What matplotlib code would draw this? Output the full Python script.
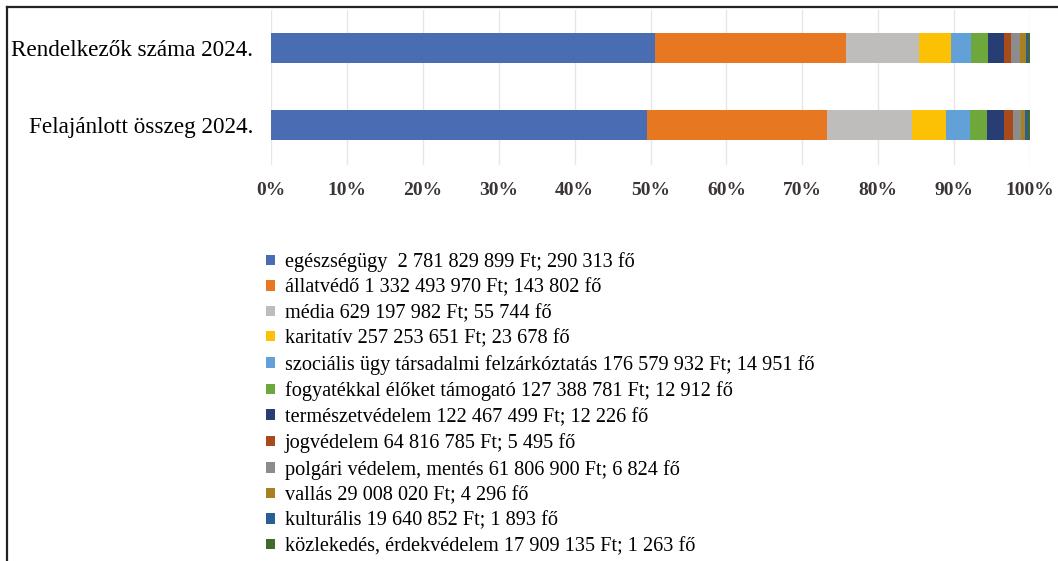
import matplotlib
matplotlib.use("Agg")
import matplotlib.pyplot as plt
from matplotlib.patches import Patch
from matplotlib.lines import Line2D
import numpy as np

plt.rcParams['font.family'] = ['Liberation Serif', 'DejaVu Serif']

bar_labels = ["Felajánlott összeg 2024.", "Rendelkezők száma 2024."]

categories = ["egészségügy ", "állatvédő", "média", "karitatív",
              "szociális ügy társadalmi felzárkóztatás",
              "fogyatékkal élőket támogató", "természetvédelem", "jogvédelem",
              "polgári védelem, mentés", "vallás", "kulturális",
              "közlekedés, érdekvédelem"]
amount_ft = [2781829899, 1332493970, 629197982, 257253651, 176579932, 127388781,
             122467499, 64816785, 61806900, 29008020, 19640852, 17909135]
people = [290313, 143802, 55744, 23678, 14951, 12912, 12226, 5495, 6824, 4296, 1893, 1263]

colors = ["#4a6cb3", "#e87722", "#bfbdbb", "#fcc004", "#62a0d8", "#6ea83c",
          "#283d73", "#a84a1a", "#8c8c8c", "#a8801f", "#2a5f96", "#44692c"]


def fmt(n):
    return f"{n:,}".replace(",", " ")


amt = np.array(amount_ft, dtype=float)
ppl = np.array(people, dtype=float)
shares = np.vstack([amt / amt.sum() * 100, ppl / ppl.sum() * 100])

fig = plt.figure(figsize=(10.58, 5.61), dpi=100)
ax = fig.add_axes([271 / 1058, 1 - 165 / 561, (1030 - 271) / 1058, 155 / 561])

ypos = [0, 1]
left = np.zeros(2)
for i, cat in enumerate(categories):
    ax.barh(ypos, shares[:, i], left=left, height=0.39, color=colors[i], zorder=3)
    left += shares[:, i]

ax.set_xlim(0, 100)
ax.set_ylim(-0.52, 1.49)
ax.set_xticks(np.arange(0, 101, 10))
ax.set_xticklabels([f"{v}%" for v in range(0, 101, 10)], fontsize=14,
                   fontweight='bold', color="#3b3535")
ax.set_yticks(ypos)
ax.set_yticklabels(bar_labels, fontsize=16.7, color="black")
ax.tick_params(axis='x', length=0, pad=12)
ax.tick_params(axis='y', length=0, pad=13)
ax.grid(axis='x', color="#e6e6e6", lw=1, zorder=0)
for s in ax.spines.values():
    s.set_visible(False)

handles = [Patch(facecolor=c, edgecolor='none') for c in colors]
labels = [f"{c} {fmt(a)} Ft; {fmt(p)} fő" for c, a, p in zip(categories, amount_ft, people)]
fig.legend(handles, labels, loc='upper left', bbox_to_anchor=(258 / 1058, 1 - 244 / 561),
           frameon=False, fontsize=14.6, handlelength=0.42, handleheight=0.42,
           handletextpad=0.5, labelspacing=0.32, borderaxespad=0)

# outer frame (top and left edge)
fig.add_artist(Line2D([7 / 1058, 1], [1 - 7 / 561, 1 - 7 / 561], color="#222222", lw=1.6,
                      transform=fig.transFigure))
fig.add_artist(Line2D([7 / 1058, 7 / 1058], [0, 1 - 7 / 561], color="#222222", lw=1.6,
                      transform=fig.transFigure))

fig.savefig("out.png", dpi=100)
